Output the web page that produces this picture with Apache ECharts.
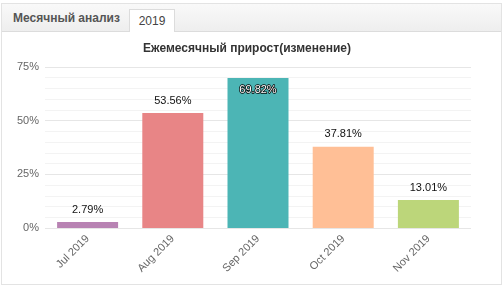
<!DOCTYPE html>
<html>
<head>
<meta charset="utf-8">
<script src="https://cdn.jsdelivr.net/npm/echarts@6/dist/echarts.min.js"></script>
<style>
  html, body { margin: 0; padding: 0; background: #fff; }
  body { width: 503px; height: 287px; position: relative; overflow: hidden; font-family: Arial, "Liberation Sans", sans-serif; }
  #panel { position: absolute; left: 1px; top: 3px; width: 499px; height: 280px; border: 1px solid #e3e3e3; }
  #head { position: absolute; left: 0; top: 0; width: 499px; height: 27px; background: linear-gradient(#f9f9f9, #eeeeee); border-bottom: 1px solid #dcdcdc; }
  #head .name { position: absolute; left: 11px; top: 7px; font-size: 12px; font-weight: bold; color: #555; }
  #head .tab { position: absolute; left: 127px; top: 5px; width: 44px; height: 22px; background: #fff; border: 1px solid #dcdcdc; border-bottom: none; font-size: 12px; color: #444; text-align: center; line-height: 22px; }
  #chart { position: absolute; left: 0; top: 0; width: 503px; height: 287px; }
</style>
</head>
<body>
<div id="panel">
  <div id="head">
    <div class="name">Месячный анализ</div>
    <div class="tab">2019</div>
  </div>
</div>
<div id="chart"></div>
<script>
  // данные
  const categories = ['Jul 2019', 'Aug 2019', 'Sep 2019', 'Oct 2019', 'Nov 2019'];
  const growth = [2.79, 53.56, 69.82, 37.81, 13.01];
  const barColors = ['#b883b3', '#e88586', '#4cb5b5', '#ffbf96', '#bcd67a'];
  const yTicks = [0, 25, 50, 75];

  const chart = echarts.init(document.getElementById('chart'));

  const seriesData = growth.map((v, i) => {
    const item = { value: v, itemStyle: { color: barColors[i] } };
    // верхний столбец подписан внутри
    if (v > 60) {
      item.label = {
        position: 'insideTop',
        distance: 6,
        color: '#fff',
        textBorderColor: '#000',
        textBorderWidth: 1.5,
      };
    }
    return item;
  });

  chart.setOption({
    animation: false,
    title: {
      text: 'Ежемесячный прирост(изменение)',
      left: 242,
      top: 38,
      textAlign: 'center',
      textStyle: { fontSize: 12, fontWeight: 'bold', color: '#333', fontFamily: 'Arial' },
    },
    grid: { left: 45, top: 67, width: 426, height: 161, containLabel: false },
    xAxis: {
      type: 'category',
      data: categories,
      axisLine: { show: false },
      axisTick: { show: false },
      axisLabel: { rotate: 45, margin: 9, color: '#666', fontSize: 11, fontFamily: 'Arial' },
    },
    yAxis: {
      type: 'value',
      min: yTicks[0],
      max: yTicks[yTicks.length - 1],
      interval: 25,
      axisLine: { show: false },
      axisTick: { show: false },
      axisLabel: { formatter: '{value}%', color: '#666', fontSize: 11, margin: 6, fontFamily: 'Arial' },
      splitLine: { lineStyle: { color: '#e6e6e6' } },
      minorTick: { show: false, splitNumber: 5 },
      minorSplitLine: { show: true, lineStyle: { color: '#f3f3f3' } },
    },
    series: [
      {
        type: 'bar',
        data: seriesData,
        barWidth: 61,
        label: {
          show: true,
          position: 'top',
          distance: 7,
          color: '#111',
          fontSize: 11,
          fontFamily: 'Arial',
          formatter: (p) => p.value.toFixed(2) + '%',
        },
      },
    ],
  });
</script>
</body>
</html>
